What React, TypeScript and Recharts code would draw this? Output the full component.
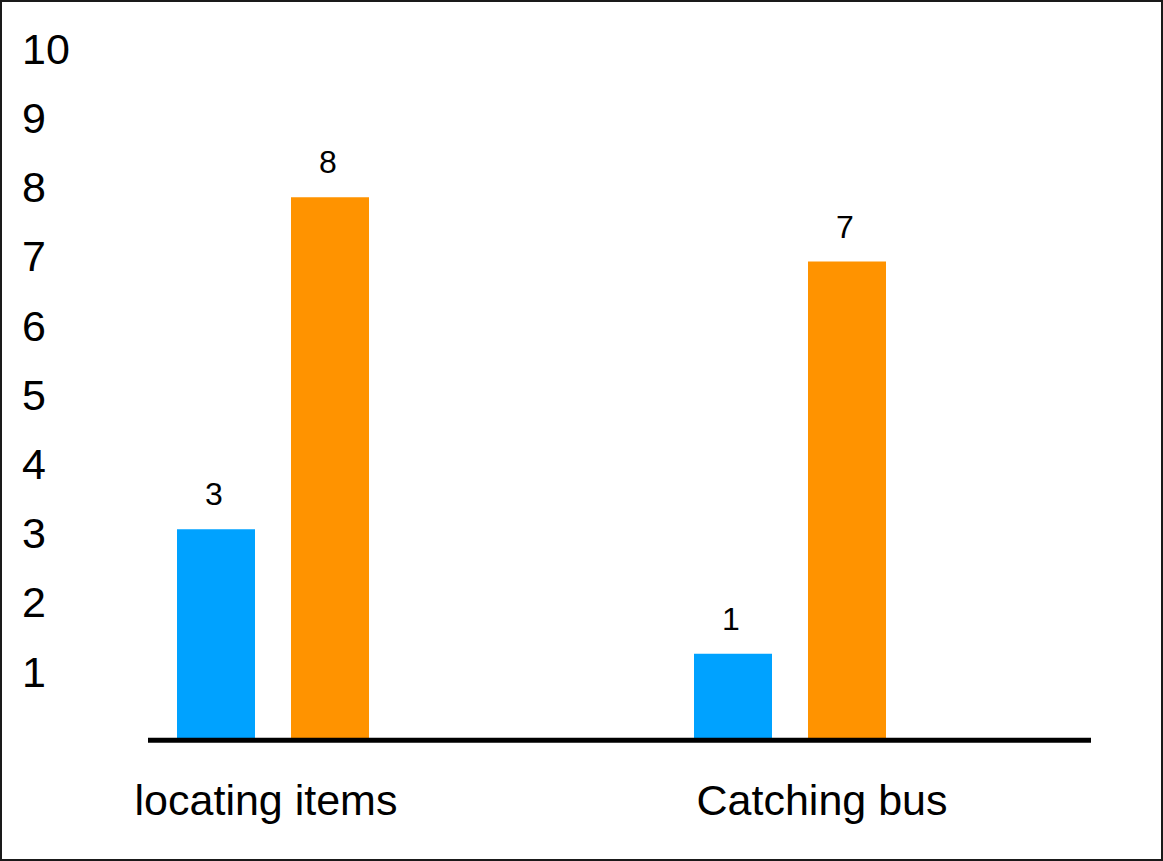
import { Bar, BarChart, LabelList, XAxis, YAxis } from 'recharts';

const categories = ['locating items', 'Catching bus'];
const series1 = [3.05, 1.25];
const series2 = [7.85, 6.92];
const series1Labels = ['3', '1'];
const series2Labels = ['8', '7'];
const yTicks = [1, 2, 3, 4, 5, 6, 7, 8, 9, 10];

const data = categories.map((name, i) => ({
  name,
  series1: series1[i],
  series2: series2[i],
  label1: series1Labels[i],
  label2: series2Labels[i],
}));

const font = '"Liberation Sans", Arial, sans-serif';
// category labels in the original sit a bit off their bar groups
const catShift = [-6.5, 32.5];

function YTick({ y, payload }: any) {
  return (
    <text x={20} y={y} dy="0.36em" textAnchor="start" fontSize={43} fontFamily={font} fill="#000">
      {payload.value}
    </text>
  );
}

function XTick({ x, y, payload, index }: any) {
  return (
    <text x={x + (catShift[index] ?? 0)} y={y} dy={67} textAnchor="middle" fontSize={43} fontFamily={font} fill="#000">
      {payload.value}
    </text>
  );
}

export default function App() {
  return (
    <div
      style={{
        position: 'absolute',
        left: 0,
        top: 0,
        width: 1163,
        height: 861,
        boxSizing: 'border-box',
        border: '2px solid #1a1a1a',
        background: '#fff',
      }}
    >
      <BarChart
        width={1159}
        height={857}
        data={data}
        margin={{ top: 46.5, right: 70, bottom: 18.8, left: 46 }}
        barSize={78}
        barGap={36}
      >
        <XAxis
          dataKey="name"
          height={100}
          padding={{ left: -134, right: 43 }}
          axisLine={{ stroke: '#000', strokeWidth: 5 }}
          tickLine={false}
          tick={<XTick />}
          interval={0}
        />
        <YAxis
          width={100}
          domain={[0, 10]}
          ticks={yTicks}
          axisLine={false}
          tickLine={false}
          tick={<YTick />}
          interval={0}
        />
        <Bar dataKey="series1" fill="#00A2FF" isAnimationActive={false}>
          <LabelList dataKey="label1" position="top" offset={24} dx={-2} fontSize={32} fontFamily={font} fill="#000" />
        </Bar>
        <Bar dataKey="series2" fill="#FF9300" isAnimationActive={false}>
          <LabelList dataKey="label2" position="top" offset={24} dx={-2} fontSize={32} fontFamily={font} fill="#000" />
        </Bar>
      </BarChart>
    </div>
  );
}
